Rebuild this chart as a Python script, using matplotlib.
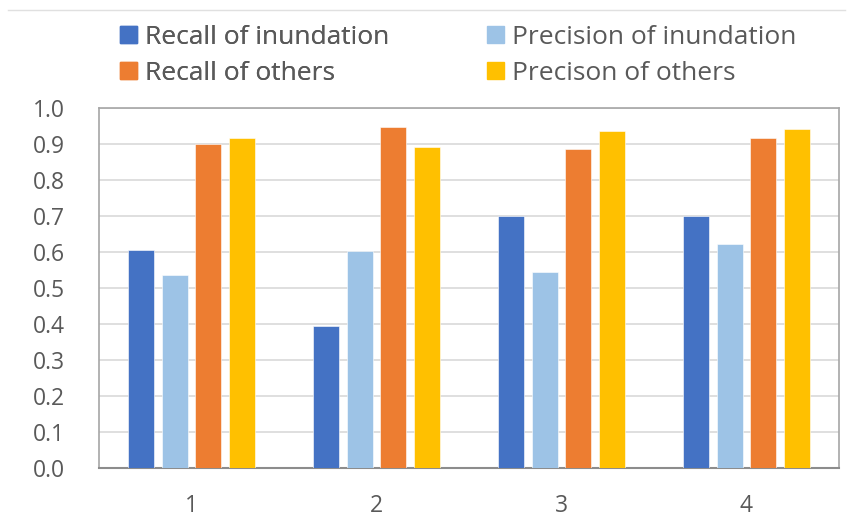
import matplotlib
matplotlib.use("Agg")
import matplotlib.pyplot as plt
import numpy as np
from matplotlib.patches import Patch
from matplotlib.lines import Line2D

plt.rcParams['font.family'] = ['Open Sans', 'DejaVu Sans']

categories = ["1", "2", "3", "4"]
series_names = ["Recall of inundation", "Precision of inundation",
                "Recall of others", "Precison of others"]
recall_inundation = [0.605, 0.395, 0.701, 0.701]
precision_inundation = [0.536, 0.603, 0.544, 0.622]
recall_others = [0.900, 0.949, 0.888, 0.918]
precision_others = [0.918, 0.891, 0.938, 0.942]
yticks = [0.0, 0.1, 0.2, 0.3, 0.4, 0.5, 0.6, 0.7, 0.8, 0.9, 1.0]

colors = ["#4472C4", "#9DC3E6", "#ED7D31", "#FFC000"]
series = [recall_inundation, precision_inundation, recall_others, precision_others]

fig = plt.figure(figsize=(8.61, 5.23), dpi=100)
ax = fig.add_axes([99/861, 1-467.7/523, 740/861, (467.7-108.3)/523])

x = np.arange(len(categories))
width = 0.1405
pitch = 0.181
offsets = [-1.5*pitch, -0.5*pitch, 0.5*pitch, 1.5*pitch]
for vals, c, off, name in zip(series, colors, offsets, series_names):
    ax.bar(x + off, vals, width, color=c, label=name, zorder=3,
           edgecolor='white', linewidth=0.4)

ax.set_xlim(-0.5, 3.5)
ax.set_ylim(0, 1.0)
ax.set_yticks(yticks)
ax.set_yticklabels([f"{v:.1f}" for v in yticks])
ax.set_xticks(x)
ax.set_xticklabels(categories)
ax.yaxis.grid(True, color="#D9D9D9", linewidth=1.2, zorder=0)
ax.set_axisbelow(True)
for s in ['left', 'right', 'top']:
    ax.spines[s].set_color('#A6A6A6')
    ax.spines[s].set_linewidth(1.2)
ax.spines['bottom'].set_color('#8C8C8C')
ax.spines['bottom'].set_linewidth(1.5)
ax.tick_params(axis='both', length=0, labelsize=16.5, labelcolor='#595959')
ax.tick_params(axis='y', pad=24.5)
ax.tick_params(axis='x', pad=19)

leg_kw = dict(loc='upper left', frameon=False, fontsize=19,
              handlelength=0.64, handleheight=0.64, handletextpad=0.3,
              labelspacing=0.4, labelcolor='#595959', borderpad=0,
              borderaxespad=0)
col1 = [0, 2]
col2 = [1, 3]
leg1 = fig.legend([Patch(color=colors[i]) for i in col1],
                  [series_names[i] for i in col1],
                  bbox_to_anchor=(120.5/861, 1-25/523), **leg_kw)
fig.add_artist(leg1)
leg2 = fig.legend([Patch(color=colors[i]) for i in col2],
                  [series_names[i] for i in col2],
                  bbox_to_anchor=(487/861, 1-25/523), **leg_kw)

fig.add_artist(Line2D([8/861, 845/861], [1-10/523, 1-10/523],
                      color='#E0E0E0', linewidth=1))

fig.savefig("out.png", dpi=100)
